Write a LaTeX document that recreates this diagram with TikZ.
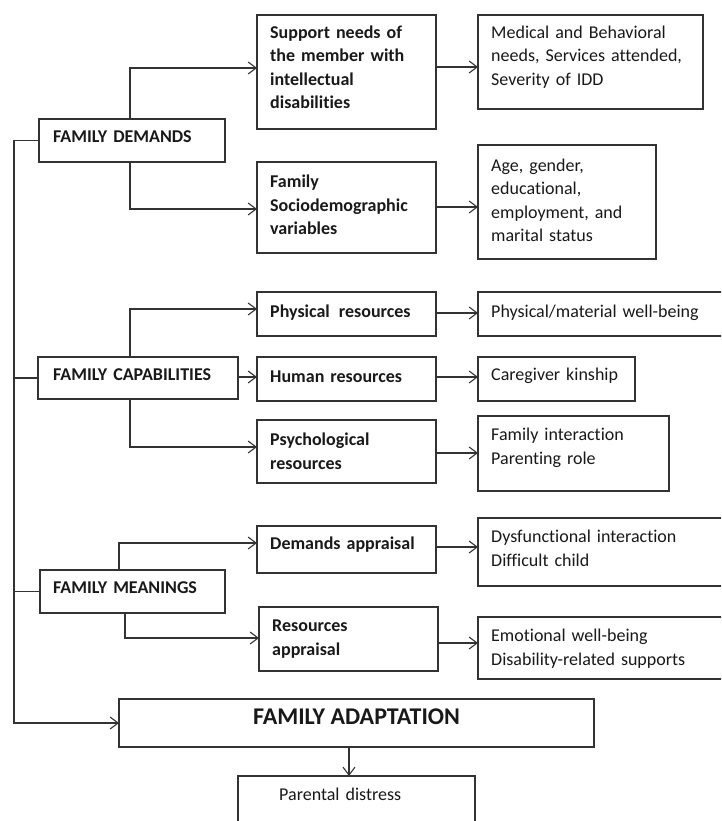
\documentclass[tikz,border=0pt]{standalone}
\usepackage{fontspec}
\setmainfont{Carlito}[Ligatures=NoCommon]
\usetikzlibrary{arrows.meta}
\newcommand\mkbox[5]{%
  \node[boxst, minimum width={(#4-#2)*1pt}, minimum height={(#5-#3)*1pt}] (#1) at ({(#2+#4)/2},{(#3+#5)/2}) {};}
\begin{document}
\begin{tikzpicture}[x=1pt,y=-1pt,
  boxst/.style={draw=black!80, line width=1.1pt, rectangle, inner sep=0pt, outer sep=0pt},
  txt/.style={inner sep=0pt, anchor=base west, text width=240pt, align=left, text=black!90, font=\fontsize{18}{23.5}\selectfont},
  btxt/.style={txt, font=\fontsize{18}{23.5}\selectfont\bfseries},
  arr/.style={draw=black!80, line width=1.1pt, -{Straight Barb[length=8pt,width=12pt]}},
  ln/.style={draw=black!80, line width=1.1pt}]
\clip (0,0) rectangle (721,821);
\fill[white] (0,0) rectangle (721,821);
\coordinate (spine) at (14,0);

% boxes
\mkbox{dem}{39}{119}{225}{162}
\mkbox{sup}{257}{15}{436}{129}
\mkbox{med}{478}{15}{703}{109}
\mkbox{soc}{257}{162}{436}{253}
\mkbox{age}{478}{145}{656}{259}

\mkbox{cap}{38}{357}{238}{399}
\mkbox{phy}{257}{292}{436}{336}
\mkbox{hum}{257}{357}{436}{401}
\mkbox{psy}{257}{420}{436}{483}
\mkbox{pmw}{478}{292}{730}{336}
\mkbox{care}{478}{357}{635}{401}
\mkbox{fi}{478}{416}{669}{491}

\mkbox{mean}{40}{570}{225}{613}
\mkbox{da}{257}{526}{436}{573}
\mkbox{ra}{259}{607}{438}{671}
\mkbox{dys}{478}{518}{730}{586}
\mkbox{emo}{478}{617}{730}{679}

\mkbox{adapt}{119}{699}{594}{747}
\mkbox{par}{238}{776}{475}{860}

% texts
\node[btxt] (demT) at (53,142.5) {FAMILY DEMANDS};
\node[btxt] (supT) at (270,38.5) {Support needs of\\the member with\\intellectual\\disabilities};
\node[txt] (medT) at (491,38.5) {Medical and Behavioral\\needs, Services attended,\\Severity of IDD};
\node[btxt] (socT) at (270,187.5) {Family\\Sociodemographic\\variables};
\node[txt] (ageT) at (491,171.5) {Age, gender,\\educational,\\employment, and\\marital status};

\node[btxt] (capT) at (53,380.5) {FAMILY CAPABILITIES};
\node[btxt] (phyT) at (270,317.5) {Physical\, resources};
\node[txt] (pmwT) at (491,317.5) {Physical/material well-being};
\node[btxt] (humT) at (270,382.5) {Human resources};
\node[txt] (careT) at (491,380.5) {Caregiver kinship};
\node[btxt] (psyT) at (270,445.5) {Psychological\\resources};
\node[txt] (fiT) at (491,440.5) {Family interaction\\Parenting role};

\node[btxt] (meanT) at (53,593.5) {FAMILY MEANINGS};
\node[btxt] (daT) at (270,549.5) {Demands appraisal};
\node[txt] (dysT) at (491,542.5) {Dysfunctional interaction\\Difficult child};
\node[btxt] (raT) at (272,631.5) {Resources\\appraisal};
\node[txt] (emoT) at (491,641.5) {Emotional well-being\\Disability-related supports};

\node[inner sep=0pt, anchor=base, text=black!90, font=\fontsize{24}{28}\selectfont\bfseries] (adT) at (356.5,724.5) {FAMILY ADAPTATION};
\node[txt] (parT) at (279,800) {Parental distress};

% connectors
\draw[arr] (dem.west) -- ++(-25,0) |- (adapt.west);
\draw[ln] (cap.west) -- (cap.west -| spine);
\draw[ln] (mean.west) -- (mean.west -| spine);

\draw[arr] (dem.north -| 130,0) |- (sup.west |- 0,68);
\draw[arr] (dem.south -| 130,0) |- (soc.west |- 0,209);
\draw[arr] (sup.east |- 0,67) -- (med.west |- 0,67);
\draw[arr] (soc.east |- 0,207) -- (age.west |- 0,207);

\draw[arr] (cap.north -| 130,0) |- (phy.west |- 0,309);
\draw[arr] (cap.east |- 0,377) -- (hum.west |- 0,377);
\draw[arr] (cap.south -| 130,0) |- (psy.west |- 0,447);
\draw[arr] (phy.east |- 0,313) -- (pmw.west |- 0,313);
\draw[arr] (hum.east |- 0,377) -- (care.west |- 0,377);
\draw[arr] (psy.east |- 0,453) -- (fi.west |- 0,453);

\draw[arr] (mean.north -| 119,0) |- (da.west |- 0,543);
\draw[arr] (mean.south -| 125,0) |- (ra.west |- 0,638);
\draw[arr] (da.east |- 0,547) -- (dys.west |- 0,547);
\draw[arr] (ra.east |- 0,643) -- (emo.west |- 0,643);

\draw[arr] (adapt.south -| 349,0) -- (par.north -| 349,0);
\end{tikzpicture}
\end{document}
